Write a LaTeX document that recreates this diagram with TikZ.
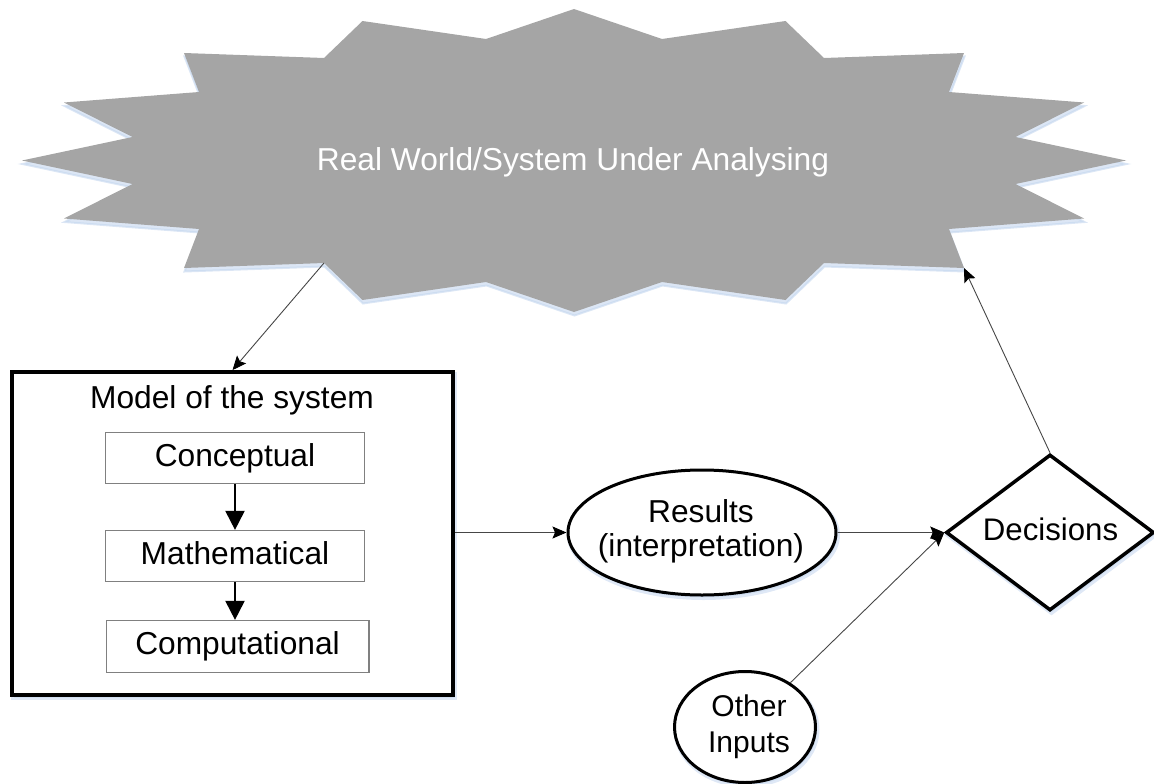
\documentclass[tikz,border=0pt]{standalone}
\usepackage{fontspec}
\setmainfont{Liberation Sans}
\usetikzlibrary{arrows.meta,shapes.geometric,shadows}

\definecolor{starfill}{RGB}{165,165,165}
\definecolor{glowblue}{RGB}{196,214,238}
\definecolor{boxedge}{RGB}{128,128,128}
\definecolor{wire}{RGB}{70,70,70}

\begin{document}
\begin{tikzpicture}[x=1pt,y=-1pt,
  every node/.style={font=\fontsize{31.7}{35}\selectfont},
  halo/.style={general shadow={shadow xshift=1.5pt, shadow yshift=-2.5pt,
      fill=glowblue, draw=glowblue, line width=5pt, opacity=.55}},
  frame/.style={draw=black, line width=3.8pt, fill=white, halo,
      minimum width=441pt, minimum height=323pt, inner sep=0pt},
  stagebox/.style={draw=boxedge, line width=1.2pt, fill=white, inner sep=0pt,
      minimum height=51pt, text height=22.8pt, text depth=6.7pt},
  oval/.style={ellipse, draw=black, line width=3pt, fill=white, halo, inner sep=0pt},
  choice/.style={diamond, draw=black, line width=3.5pt, fill=white, halo, inner sep=0pt,
      minimum width=208pt, minimum height=156pt},
  wirearrow/.style={draw=wire, line width=0.9pt,
      -{Stealth[length=14pt,width=12pt,inset=2.5pt,color=black]}},
  steparrow/.style={draw=black, line width=2pt,
      -{Triangle[length=19pt,width=19pt]}},
]
\useasboundingbox (0,0) rectangle (1154,784);

% the real world: a grey jagged burst
\path[fill=starfill,
      general shadow={shadow xshift=0.5pt, shadow yshift=-3.5pt, fill=glowblue,
                      draw=glowblue, line width=2pt, opacity=.6}]
  (574,9) -- (662,39) -- (785.5,21) -- (824,58) -- (964,53) -- (949,92)
  -- (1084,102.5) -- (1015.5,137) -- (1126,160.5) -- (1015.5,184)
  -- (1084,218.5) -- (949,229) -- (964,268) -- (824,263) -- (785.5,300)
  -- (662,282) -- (574,312) -- (486,282) -- (362.5,300) -- (324,263)
  -- (184,268) -- (199,229) -- (64,218.5) -- (132.5,184) -- (22,160.5)
  -- (132.5,137) -- (64,102.5) -- (199,92) -- (184,53) -- (324,58)
  -- (362.5,21) -- (486,39) -- cycle;
\node[text=white, anchor=base] (rw) at (573,170) {Real World/System Under Analysing};
\coordinate (rwIn) at (324,263);
\coordinate (rwTip) at (964,268);

% model of the system with its three stages
\node[frame] (model) at (232.5,533.5) {};
\node[anchor=base] (modeltitle) at (232,408) {Model of the system};
\node[stagebox, minimum width=258.8pt] (conc) at (235,458) {Conceptual};
\node[stagebox, minimum width=258.8pt] (math) at (235,556) {Mathematical};
\node[stagebox, minimum width=262.8pt, minimum height=52pt] (comp) at (237.5,646.5) {Computational};
\draw[steparrow] (conc.south) -- (math.north);
\draw[steparrow] (math.south) -- (math.south |- comp.north);

% results
\node[oval, minimum width=268pt, minimum height=125pt] (res) at (702,532.5) {};
\node[align=center, font=\fontsize{31.7}{34}\selectfont] (restext) at (701,531) {Results\\(interpretation)};

% other inputs
\node[oval, minimum width=141pt, minimum height=111pt] (oth) at (745,727) {};
\node[align=center, font=\fontsize{30}{36}\selectfont] (othtext) at (749,727) {Other\\Inputs};

% decisions
\node[choice] (dec) at (1050,532.5) {};
\node[anchor=base, font=\fontsize{31.2}{35}\selectfont] (dectext) at (1050.5,540) {Decisions};

% connectors
\draw[wirearrow] (rwIn) -- (model.north);
\draw[wirearrow] (model.east |- res.west) -- (res.west);
\draw[wirearrow] (res.east) -- (dec.west);
\draw[wirearrow] (oth) -- (dec.west);
\draw[wirearrow] (dec.north) -- (rwTip);
\end{tikzpicture}
\end{document}
